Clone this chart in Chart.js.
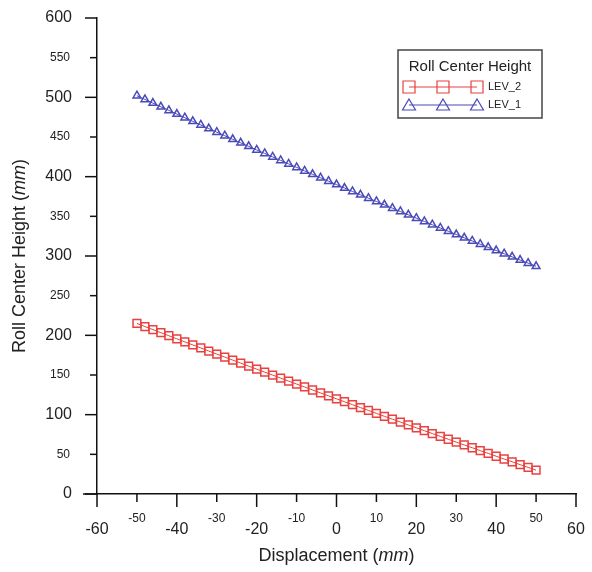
<!DOCTYPE html>
<html>
<head>
<meta charset="utf-8">
<script src="https://cdn.jsdelivr.net/npm/chart.js@4"></script>
<style>
  body { margin: 0; background: #fff; }
  #wrap { width: 592px; height: 572px; position: relative; }
</style>
</head>
<body>
<div id="wrap"><canvas id="rchChart"></canvas></div>
<script>
// displacement (mm)
const displacement = [-50, -48, -46, -44, -42, -40, -38, -36, -34, -32, -30, -28, -26, -24, -22, -20, -18, -16, -14, -12, -10, -8, -6, -4, -2,
  0, 2, 4, 6, 8, 10, 12, 14, 16, 18, 20, 22, 24, 26, 28, 30, 32, 34, 36, 38, 40, 42, 44, 46, 48, 50];

// roll center height (mm)
const lev1 = [502.0, 497.4, 492.7, 488.1, 483.5, 478.9, 474.3, 469.7, 465.2, 460.6, 456.1, 451.6, 447.1, 442.6, 438.2, 433.7, 429.3, 424.9, 420.5, 416.1, 411.7, 407.3, 403.0, 398.6, 394.3,
  390.0, 385.7, 381.4, 377.2, 372.9, 368.7, 364.5, 360.3, 356.1, 351.9, 347.7, 343.6, 339.4, 335.3, 331.2, 327.1, 323.0, 319.0, 314.9, 310.9, 306.9, 302.9, 298.9, 294.9, 291.0, 287.0];

const lev2 = [215.0, 211.1, 207.2, 203.3, 199.5, 195.6, 191.7, 187.9, 184.1, 180.2, 176.4, 172.6, 168.8, 165.0, 161.2, 157.4, 153.6, 149.9, 146.1, 142.3, 138.6, 134.9, 131.1, 127.4, 123.7,
  120.0, 116.3, 112.6, 108.9, 105.3, 101.6, 97.9, 94.3, 90.7, 87.0, 83.4, 79.8, 76.2, 72.6, 69.0, 65.4, 61.8, 58.3, 54.7, 51.2, 47.6, 44.1, 40.6, 37.0, 33.5, 30.0];

const seriesNames = ["LEV_2", "LEV_1"];
const legendTitle = "Roll Center Height";
const xTitle = "Displacement";
const yTitle = "Roll Center Height";
const unitText = "mm";

const RED = "#e8413f";
const BLUE = "#4a4ab8";
const FONT = "'Liberation Sans', Arial, sans-serif";

function toPoints(values) {
  return values.map((v, i) => ({ x: displacement[i], y: v }));
}

// draws ticks, labels, titles and the legend box in the style of the original plot
const axisDecor = {
  id: "axisDecor",
  afterDraw(chart) {
    const ctx = chart.ctx;
    const xs = chart.scales.x;
    const ys = chart.scales.y;
    const area = chart.chartArea;

    ctx.save();
    ctx.strokeStyle = "#111";
    ctx.fillStyle = "#222";
    ctx.lineWidth = 1.5;

    // x axis runs a little past the y axis
    ctx.beginPath();
    ctx.moveTo(area.left - 14, area.bottom);
    ctx.lineTo(area.left, area.bottom);
    ctx.stroke();

    // x ticks
    ctx.textAlign = "center";
    ctx.textBaseline = "middle";
    xs.ticks.forEach(t => {
      const px = xs.getPixelForValue(t.value);
      const major = t.value % 20 === 0;
      ctx.beginPath();
      ctx.moveTo(px, area.bottom);
      ctx.lineTo(px, area.bottom + (major ? 13 : 8));
      ctx.stroke();
      ctx.font = (major ? "16px " : "12px ") + FONT;
      ctx.fillText(String(t.value), px, major ? area.bottom + 36 : area.bottom + 25);
    });

    // y ticks
    ctx.textAlign = "right";
    ys.ticks.forEach(t => {
      const py = ys.getPixelForValue(t.value);
      const major = t.value % 100 === 0;
      ctx.beginPath();
      ctx.moveTo(area.left, py);
      ctx.lineTo(area.left - (major ? 12 : 7), py);
      ctx.stroke();
      ctx.font = (major ? "16px " : "12px ") + FONT;
      ctx.fillText(String(t.value), area.left - (major ? 25 : 27), py);
    });

    // axis titles with italic unit
    function titleParts(text) {
      const a = text + " (";
      ctx.font = "18px " + FONT;
      const wa = ctx.measureText(a).width;
      const wc = ctx.measureText(")").width;
      ctx.font = "italic 18px " + FONT;
      const wb = ctx.measureText(unitText).width;
      return { a, wa, wb, wc, total: wa + wb + wc };
    }
    function drawTitle(text, cx, cy) {
      const p = titleParts(text);
      let x = cx - p.total / 2;
      ctx.textAlign = "left";
      ctx.textBaseline = "middle";
      ctx.font = "18px " + FONT;
      ctx.fillText(p.a, x, cy);
      ctx.font = "italic 18px " + FONT;
      ctx.fillText(unitText, x + p.wa, cy);
      ctx.font = "18px " + FONT;
      ctx.fillText(")", x + p.wa + p.wb, cy);
    }
    drawTitle(xTitle, (area.left + area.right) / 2, 556);
    ctx.save();
    ctx.translate(20, (area.top + area.bottom) / 2);
    ctx.rotate(-Math.PI / 2);
    drawTitle(yTitle, 0, 0);
    ctx.restore();

    // legend
    const lx = 398, ly = 50, lw = 144, lh = 68;
    ctx.strokeStyle = "#444";
    ctx.lineWidth = 1.5;
    ctx.strokeRect(lx, ly, lw, lh);
    ctx.font = "15px " + FONT;
    ctx.textAlign = "center";
    ctx.fillStyle = "#222";
    ctx.fillText(legendTitle, lx + lw / 2, ly + 17);

    const marks = [409, 443, 477];
    chart.data.datasets.forEach((ds, i) => {
      const ry = ly + 37 + i * 18;
      ctx.strokeStyle = ds.borderColor;
      ctx.lineWidth = 1.2;
      ctx.beginPath();
      ctx.moveTo(marks[0], ry);
      ctx.lineTo(marks[2], ry);
      ctx.stroke();
      marks.forEach(mx => {
        ctx.beginPath();
        if (ds.pointStyle === "rect") {
          ctx.rect(mx - 6, ry - 6, 12, 12);
        } else {
          ctx.moveTo(mx, ry - 6);
          ctx.lineTo(mx + 6.5, ry + 5);
          ctx.lineTo(mx - 6.5, ry + 5);
          ctx.closePath();
        }
        ctx.stroke();
      });
      ctx.font = "11px " + FONT;
      ctx.textAlign = "left";
      ctx.fillStyle = "#222";
      ctx.fillText(ds.label, 488, ry);
    });

    ctx.restore();
  }
};

new Chart(document.getElementById("rchChart"), {
  type: "line",
  data: {
    datasets: [
      {
        label: seriesNames[0],
        data: toPoints(lev2),
        borderColor: RED,
        borderWidth: 1,
        pointStyle: "rect",
        pointRadius: 5.5,
        pointBorderWidth: 1.5,
        pointBorderColor: RED,
        pointBackgroundColor: "rgba(0,0,0,0)"
      },
      {
        label: seriesNames[1],
        data: toPoints(lev1),
        borderColor: BLUE,
        borderWidth: 1,
        pointStyle: "triangle",
        pointRadius: 4.5,
        pointBorderWidth: 1.5,
        pointBorderColor: BLUE,
        pointBackgroundColor: "rgba(0,0,0,0)"
      }
    ]
  },
  options: {
    responsive: true,
    maintainAspectRatio: false,
    animation: false,
    layout: { padding: { left: 89, top: 18, right: 16, bottom: 70 } },
    plugins: { legend: { display: false }, tooltip: { enabled: false } },
    scales: {
      x: {
        type: "linear",
        min: -60,
        max: 60,
        ticks: { display: false, stepSize: 10 },
        grid: { display: false },
        border: { display: true, color: "#111", width: 1.5 }
      },
      y: {
        min: 0,
        max: 600,
        ticks: { display: false, stepSize: 50 },
        grid: { display: false },
        border: { display: true, color: "#111", width: 1.5 }
      }
    }
  },
  plugins: [axisDecor]
});
</script>
</body>
</html>
